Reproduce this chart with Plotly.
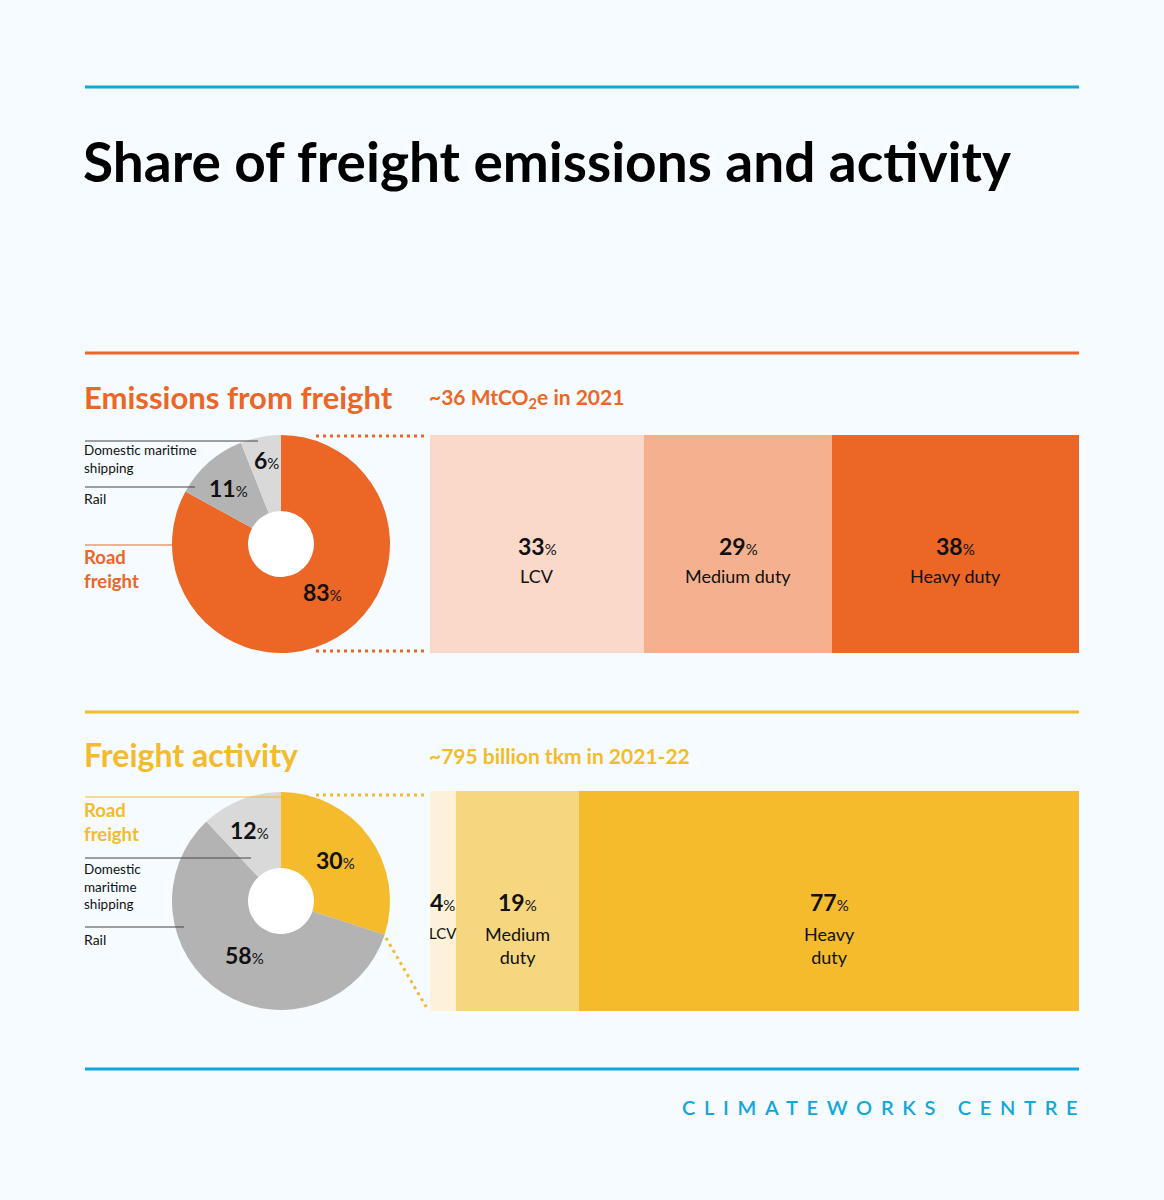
import plotly.graph_objects as go

# ---------------- data ----------------
emis_modes = ["Road freight", "Rail", "Domestic maritime shipping"]
emis_mode_share = [83, 11, 6]
emis_road_cats = ["LCV", "Medium duty", "Heavy duty"]
emis_road_share = [33, 29, 38]

act_modes = ["Road freight", "Rail", "Domestic maritime shipping"]
act_mode_share = [30, 58, 12]
act_road_cats = ["LCV", "Medium<br>duty", "Heavy<br>duty"]
act_road_share = [4, 19, 77]

title_text = "Share of freight emissions and activity"
emis_heading = "Emissions from freight"
emis_total = "~36 MtCO<sub>2</sub>e in 2021"
act_heading = "Freight activity"
act_total = "~795 billion tkm in 2021-22"
brand = "CLIMATEWORKS CENTRE"

# ---------------- style ----------------
W, H = 1164, 1200
BG = "#f5fbfe"
ORANGE = "#ec6625"
PEACH = "#fad9ca"
PEACH_MID = "#f5b18f"
YELLOW = "#f4bb2c"
YELLOW_MID = "#f7d680"
CREAM = "#fdf1d9"
GREY = "#b3b3b3"
LGREY = "#d9d9d9"
BLUE = "#12a7d9"
FONT = "Lato"

def X(px):
    return px / W

def Y(py):
    return 1 - py / H

fig = go.Figure()

# ---------------- pies ----------------
R = 109
HOLE = 33
pie_specs = [
    (emis_modes, emis_mode_share, [ORANGE, GREY, LGREY], 281, 544),
    (act_modes, act_mode_share, [YELLOW, GREY, LGREY], 281, 901),
]
shapes = []
for labels, vals, cols, cx, cy in pie_specs:
    fig.add_trace(go.Pie(
        labels=labels, values=vals, sort=False, direction="clockwise", rotation=0,
        hole=HOLE / R, marker=dict(colors=cols, line=dict(width=0)),
        textinfo="none", hoverinfo="label+percent", showlegend=False,
        domain=dict(x=[X(cx - R), X(cx + R)], y=[Y(cy + R), Y(cy - R)]),
    ))
    shapes.append(dict(type="circle", xref="paper", yref="paper", layer="below",
                       x0=X(cx - HOLE), x1=X(cx + HOLE), y0=Y(cy + HOLE), y1=Y(cy - HOLE),
                       fillcolor="#ffffff", line=dict(width=0)))

# ---------------- bars ----------------
bar_specs = [
    ("x", "y", emis_road_cats, emis_road_share, [PEACH, PEACH_MID, ORANGE]),
    ("x2", "y2", act_road_cats, act_road_share, [CREAM, YELLOW_MID, YELLOW]),
]
for xa, ya, cats, vals, cols in bar_specs:
    for c, v, col in zip(cats, vals, cols):
        fig.add_trace(go.Bar(
            x=[v], y=[0], orientation="h", name=c.replace("<br>", " "),
            marker=dict(color=col, line=dict(width=0)), width=1,
            xaxis=xa, yaxis=ya, showlegend=False, hoverinfo="name+x",
        ))

annotations = []

def txt(x, y, text, size, color="#111111", weight=400, xanchor="left", yanchor="middle",
        xref="paper", align="left"):
    annotations.append(dict(x=x, y=y, xref=xref, yref="paper", text=text, showarrow=False,
                            xanchor=xanchor, yanchor=yanchor, align=align,
                            font=dict(family=FONT, size=size, color=color, weight=weight)))

def pct(v, psize=15):
    return f"<b>{v}</b><span style='font-size:{psize}px'>%</span>"

# bar labels (x in data units, through the axis scale)
bar_label_y = [(546, 576), (902, None)]
for (xa, ya, cats, vals, cols), (ny, ly) in zip(bar_specs, bar_label_y):
    cum = 0
    for c, v in zip(cats, vals):
        mid = cum + v / 2
        cum += v
        annotations.append(dict(x=mid, y=Y(ny), xref=xa, yref="paper", text=pct(v),
                                showarrow=False, xanchor="center", yanchor="middle",
                                font=dict(family=FONT, size=23, color="#111111")))
        if ly is not None:
            yy, sz = ly, 18
        elif "<br>" in c:
            yy, sz = 945, 18
        else:
            yy, sz = 933, 15
        annotations.append(dict(x=mid, y=Y(yy), xref=xa, yref="paper", text=c,
                                showarrow=False, xanchor="center", yanchor="middle",
                                font=dict(family=FONT, size=sz, color="#111111")))

# pie value labels
pie_label_pos = [
    [(322, 592), (228, 488), (266, 460)],
    [(336, 860), (244, 955), (249, 830)],
]
for (labels, vals, cols, cx, cy), poss in zip(pie_specs, pie_label_pos):
    for v, (px, py) in zip(vals, poss):
        txt(X(px), Y(py), pct(v), 23, xanchor="center")

# ---------------- titles & texts ----------------
txt(X(81), Y(161), f"<b>{title_text}</b>", 55, color="#000000", weight=700)
txt(X(82), Y(397), emis_heading, 31, color=ORANGE, weight=700)
txt(X(427), Y(398), emis_total, 21, color=ORANGE, weight=700)
txt(X(82), Y(754), act_heading, 32, color=YELLOW, weight=700)
txt(X(427), Y(755), act_total, 21, color=YELLOW, weight=700)
txt(X(1088), Y(1107), f"<span style='letter-spacing:8.7px'>{brand}</span>", 20,
    color=BLUE, weight=600, xanchor="right")

# pie side labels
txt(X(82), Y(459), "Domestic maritime<br>shipping", 13.5)
txt(X(82), Y(499), "Rail", 14)
txt(X(82), Y(569), "Road<br>freight", 18.5, color=ORANGE, weight=700)
txt(X(82), Y(822), "Road<br>freight", 18.5, color=YELLOW, weight=700)
txt(X(82), Y(886), "Domestic<br>maritime<br>shipping", 13.5)
txt(X(82), Y(939), "Rail", 14)

# ---------------- rules and connector lines ----------------
def hline(x0, x1, y, color, width):
    shapes.append(dict(type="line", xref="paper", yref="paper", x0=X(x0), x1=X(x1),
                       y0=Y(y), y1=Y(y), line=dict(color=color, width=width)))

hline(85, 1079, 87, BLUE, 3)
hline(85, 1079, 353, ORANGE, 3)
hline(85, 1079, 712, YELLOW, 3)
hline(85, 1079, 1069, BLUE, 3)

hline(85, 258, 441, "#444444", 1)
hline(85, 195, 487, "#444444", 1)
hline(85, 177, 545, ORANGE, 1.2)
hline(85, 290, 797, YELLOW, 1.2)
hline(85, 251, 858, "#444444", 1)
hline(85, 184, 927, "#444444", 1)

def dotted(x0, y0, x1, y1, color):
    shapes.append(dict(type="line", xref="paper", yref="paper", x0=X(x0), x1=X(x1),
                       y0=Y(y0), y1=Y(y1), line=dict(color=color, width=3, dash="3px,4px")))

dotted(316, 436, 428, 436, ORANGE)
dotted(316, 651, 428, 651, ORANGE)
dotted(316, 795, 428, 795, YELLOW)
dotted(386, 938, 428, 1010, YELLOW)

# ---------------- layout ----------------
bar_x_dom = [X(430), X(1079)]
fig.update_layout(
    width=W, height=H, margin=dict(l=0, r=0, t=0, b=0),
    paper_bgcolor=BG, plot_bgcolor="rgba(0,0,0,0)",
    barmode="stack", bargap=0,
    xaxis=dict(domain=bar_x_dom, range=[0, 100], visible=False, fixedrange=True),
    yaxis=dict(domain=[Y(653), Y(435)], range=[-0.5, 0.5], visible=False, fixedrange=True),
    xaxis2=dict(domain=bar_x_dom, range=[0, 100], visible=False, fixedrange=True,
                anchor="y2"),
    yaxis2=dict(domain=[Y(1011), Y(791)], range=[-0.5, 0.5], visible=False,
                fixedrange=True, anchor="x2"),
    shapes=shapes, annotations=annotations,
    font=dict(family=FONT),
)

fig.write_html(
    "out.html",
    config={"displayModeBar": False},
    post_script="document.body.style.margin='0';document.body.style.background='" + BG + "';",
)
